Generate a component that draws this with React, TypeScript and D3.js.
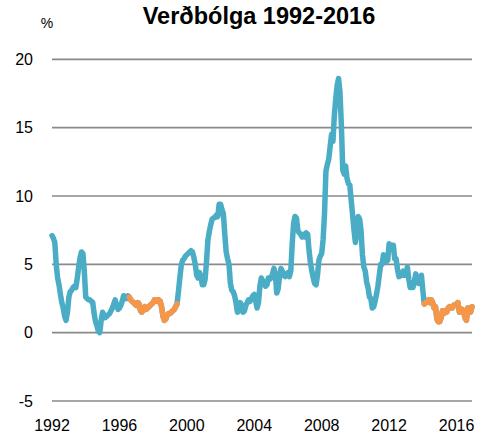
import React, { useRef, useEffect } from "react";
import * as d3 from "d3";

// 12 month inflation, monthly, Jan 1992 - Dec 2016
const inflation: number[] = [
  // 1992
  7.1, 6.9, 6.6, 5.0, 4.0, 3.5, 2.8, 2.2, 1.8, 1.2, 0.9, 1.5,
  // 1993
  2.6, 3.0, 3.1, 3.3, 3.4, 3.3, 4.0, 4.8, 5.5, 5.9, 5.8, 4.5,
  // 1994
  2.6, 2.5, 2.4, 2.4, 2.3, 2.2, 1.4, 0.8, 0.5, 0.1, 0.0, 0.9,
  // 1995
  1.5, 1.3, 1.1, 1.2, 1.3, 1.4, 1.6, 1.8, 2.1, 2.4, 2.0, 1.7,
  // 1996
  1.8, 2.0, 2.3, 2.7, 2.6, 2.5, 2.7, 2.6, 2.4, 2.3, 2.2, 2.1,
  // 1997
  2.0, 2.2, 2.1, 1.6, 1.5, 1.8, 1.9, 1.7, 1.8, 1.9, 2.0, 2.1,
  // 1998
  2.2, 2.4, 2.4, 2.3, 2.4, 2.3, 1.9, 1.2, 0.9, 1.0, 1.3, 1.4,
  // 1999
  1.4, 1.5, 1.6, 1.7, 1.9, 2.1, 3.0, 4.0, 4.9, 5.3, 5.4, 5.6,
  // 2000
  5.7, 5.8, 5.9, 6.0, 5.9, 5.5, 5.0, 4.2, 4.0, 4.4, 4.1, 3.5,
  // 2001
  3.5, 3.9, 5.2, 6.8, 7.4, 7.9, 8.3, 8.4, 8.4, 8.6, 8.5, 9.4,
  // 2002
  9.4, 9.0, 8.7, 7.2, 5.9, 5.4, 5.0, 3.6, 3.1, 3.0, 2.7, 2.2,
  // 2003
  1.5, 1.6, 2.2, 2.0, 1.5, 1.6, 2.0, 2.2, 2.4, 2.3, 2.5, 2.7,
  // 2004
  2.8, 2.3, 1.8, 2.2, 3.4, 4.0, 3.8, 3.6, 3.4, 3.5, 4.0, 3.9,
  // 2005
  4.0, 4.3, 4.7, 4.3, 2.9, 3.2, 4.1, 4.7, 4.5, 4.2, 4.1, 4.2,
  // 2006
  4.4, 4.1, 4.5, 6.5, 8.0, 8.5, 8.4, 7.5, 7.3, 7.2, 7.0, 7.2,
  // 2007
  7.0, 7.3, 7.2, 6.0, 5.1, 4.5, 4.0, 3.6, 3.5, 4.2, 5.3, 5.6,
  // 2008
  5.8, 6.8, 8.7, 11.8, 12.3, 12.7, 13.6, 14.5, 14.0, 15.9, 17.1, 18.1,
  // 2009
  18.6, 17.6, 15.2, 11.9, 11.6, 12.2, 11.3, 10.9, 10.8, 9.7, 8.6, 7.5,
  // 2010
  6.6, 7.3, 8.5, 8.3, 7.5, 5.7, 4.8, 4.5, 3.7, 3.3, 2.6, 2.5,
  // 2011
  1.8, 1.9, 2.3, 2.8, 3.4, 4.2, 5.0, 5.0, 5.7, 5.3, 5.2, 5.3,
  // 2012
  6.5, 6.3, 6.4, 6.4, 5.4, 5.4, 4.6, 4.1, 4.3, 4.2, 4.5, 4.2,
  // 2013
  4.2, 4.8, 3.9, 3.3, 3.3, 3.3, 3.8, 4.3, 3.9, 3.6, 3.7, 4.2,
  // 2014
  3.1, 2.1, 2.2, 2.2, 2.4, 2.2, 2.4, 2.2, 1.8, 1.9, 1.0, 0.8,
  // 2015
  0.8, 1.1, 1.6, 1.4, 1.6, 1.5, 1.8, 1.9, 1.8, 1.8, 2.0, 2.0,
  // 2016
  2.1, 2.2, 1.5, 1.6, 1.7, 1.6, 1.1, 0.9, 1.8, 1.8, 1.5, 1.9,
];

// periods drawn in orange (month index from / to)
const lowPeriods: [number, number][] = [
  [55, 89],
  [265, 299],
];

const yearLabels = ["1992", "1996", "2000", "2004", "2008", "2012", "2016"];
const yTicks = [-5, 0, 5, 10, 15, 20];

const width = 486;
const height = 433;
const blue = "#4bacc6";
const orange = "#f79646";
const font = "'Liberation Sans', Arial, sans-serif";

const App = () => {
  const node: any = useRef();

  useEffect(() => {
    const svg = d3.select(node.current);
    svg.selectAll("*").remove();

    const x = d3.scaleLinear().domain([0, inflation.length - 1]).range([52, 472]);
    const y = d3.scaleLinear().domain([-5, 20]).range([401, 59.3]);

    // title
    svg
      .append("text")
      .attr("x", 259)
      .attr("y", 24)
      .attr("text-anchor", "middle")
      .style("font-family", font)
      .style("font-weight", "bold")
      .style("font-size", "23.5px")
      .text("Verðbólga 1992-2016");

    svg
      .append("text")
      .attr("x", 47)
      .attr("y", 28)
      .attr("text-anchor", "middle")
      .style("font-family", font)
      .style("font-size", "14px")
      .text("%");

    // gridlines
    svg
      .append("g")
      .selectAll("line")
      .data(yTicks)
      .enter()
      .append("line")
      .attr("x1", 52)
      .attr("x2", 472)
      .attr("y1", (d) => y(d))
      .attr("y2", (d) => y(d))
      .attr("stroke", "#898989")
      .attr("stroke-width", 1.7);

    // y labels
    svg
      .append("g")
      .selectAll("text")
      .data(yTicks)
      .enter()
      .append("text")
      .attr("x", 33)
      .attr("y", (d) => y(d))
      .attr("dy", "0.36em")
      .attr("text-anchor", "end")
      .style("font-family", font)
      .style("font-size", "16px")
      .text((d) => String(d));

    // x labels, every 48 months
    svg
      .append("g")
      .selectAll("text")
      .data(yearLabels)
      .enter()
      .append("text")
      .attr("x", (_d, i) => x(i * 48))
      .attr("y", 431)
      .attr("text-anchor", "middle")
      .style("font-family", font)
      .style("font-size", "16px")
      .text((d) => d);

    const line = d3
      .line<number>()
      .x((_d, i) => x(i))
      .y((d) => y(d));

    svg
      .append("path")
      .datum(inflation)
      .attr("d", line)
      .attr("fill", "none")
      .attr("stroke", blue)
      .attr("stroke-width", 5.5)
      .attr("stroke-linejoin", "round")
      .attr("stroke-linecap", "round");

    const lineIdx = d3
      .line<number>()
      .x((i) => x(i))
      .y((i) => y(inflation[i]));

    lowPeriods.forEach(([from, to]) => {
      svg
        .append("path")
        .datum(d3.range(from, to + 1))
        .attr("d", lineIdx)
        .attr("fill", "none")
        .attr("stroke", orange)
        .attr("stroke-width", 5.5)
        .attr("stroke-linejoin", "round")
        .attr("stroke-linecap", "round");
    });
  }, []);

  return (
    <svg
      ref={node}
      width={width}
      height={height}
      style={{ position: "absolute", left: 0, top: 0, background: "#fff" }}
    ></svg>
  );
};

export default App;
